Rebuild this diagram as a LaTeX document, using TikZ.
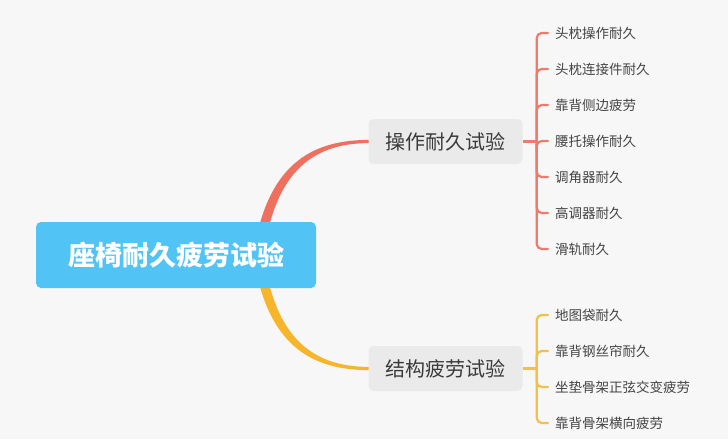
\documentclass[tikz,border=0pt]{standalone}
\usepackage{fontspec}
\setmainfont{Noto Sans CJK SC}
\usetikzlibrary{positioning,calc}

\definecolor{bgcol}{HTML}{F7F7F7}
\definecolor{rootblue}{HTML}{52C3F5}
\definecolor{branchgray}{HTML}{EAEAEA}
\definecolor{branchtext}{HTML}{3A3A3A}
\definecolor{leaftext}{HTML}{444444}
\definecolor{redline}{HTML}{F0705F}
\definecolor{redtwig}{HTML}{EE7B6B}
\definecolor{yellowline}{HTML}{F6B52A}
\definecolor{yellowtwig}{HTML}{F3C04A}

\pgfdeclarelayer{bg}
\pgfdeclarelayer{links}
\pgfsetlayers{bg,links,main}

\begin{document}
\begin{tikzpicture}[
  x=1pt,y=-1pt,
  root/.style={rectangle,rounded corners=5pt,fill=rootblue,text=white,font=\fontsize{27}{32}\selectfont\bfseries,minimum width=280pt,minimum height=66pt},
  branch/.style={rectangle,rounded corners=5pt,fill=branchgray,text=branchtext,font=\fontsize{20}{24}\selectfont,minimum width=154pt,minimum height=45pt},
  leaf/.style={anchor=west,inner xsep=7pt,inner ysep=2pt,text=leaftext,font=\fontsize{13.5}{16}\selectfont},
  stem/.style={line width=2.6pt},
  twig/.style={line width=2.2pt,rounded corners=5pt,line cap=round}
]
\begin{pgfonlayer}{bg}
  \fill[bgcol] (0,0) rectangle (728,439);
\end{pgfonlayer}
\useasboundingbox (0,0) rectangle (728,439);

% main topic and the two branches
\node[root] (seat) at (176,255) {座椅耐久疲劳试验};
\node[branch] (op) at (445.5,141.5) {操作耐久试验};
\node[branch] (st) at (445.5,368.5) {结构疲劳试验};

% tapered links from the main topic
\begin{pgfonlayer}{links}
  \fill[redline] ($(seat.north east)+(-58,8)$) .. controls +(18,-72) and +(-50,0) .. ($(op.west)+(1,-1.6)$)
    -- ($(op.west)+(1,1.6)$) .. controls +(-46,0) and +(16,-68) .. ($(seat.north east)+(-48,8)$) -- cycle;
  \fill[yellowline] ($(seat.south east)+(-58,-8)$) .. controls +(18,72) and +(-50,0) .. ($(st.west)+(1,1.6)$)
    -- ($(st.west)+(1,-1.6)$) .. controls +(-46,0) and +(16,68) .. ($(seat.south east)+(-48,-8)$) -- cycle;
\end{pgfonlayer}

% operation endurance leaves
\coordinate[right=14pt of op] (opj);
\draw[stem,redtwig] (op.east) -- (opj);
\foreach \txt [count=\i] in {头枕操作耐久,头枕连接件耐久,靠背侧边疲劳,腰托操作耐久,调角器耐久,高调器耐久,滑轨耐久} {
  \node[leaf] (op\i) at (548,{33+(\i-1)*36}) {\txt};
  \draw[twig,redtwig] (opj) |- (op\i.west);
}

% structural fatigue leaves
\coordinate[right=14pt of st] (stj);
\draw[stem,yellowtwig] (st.east) -- (stj);
\foreach \txt [count=\i] in {地图袋耐久,靠背钢丝帘耐久,坐垫骨架正弦交变疲劳,靠背骨架横向疲劳} {
  \node[leaf] (st\i) at (548,{315+(\i-1)*36}) {\txt};
  \draw[twig,yellowtwig] (stj) |- (st\i.west);
}
\end{tikzpicture}
\end{document}
